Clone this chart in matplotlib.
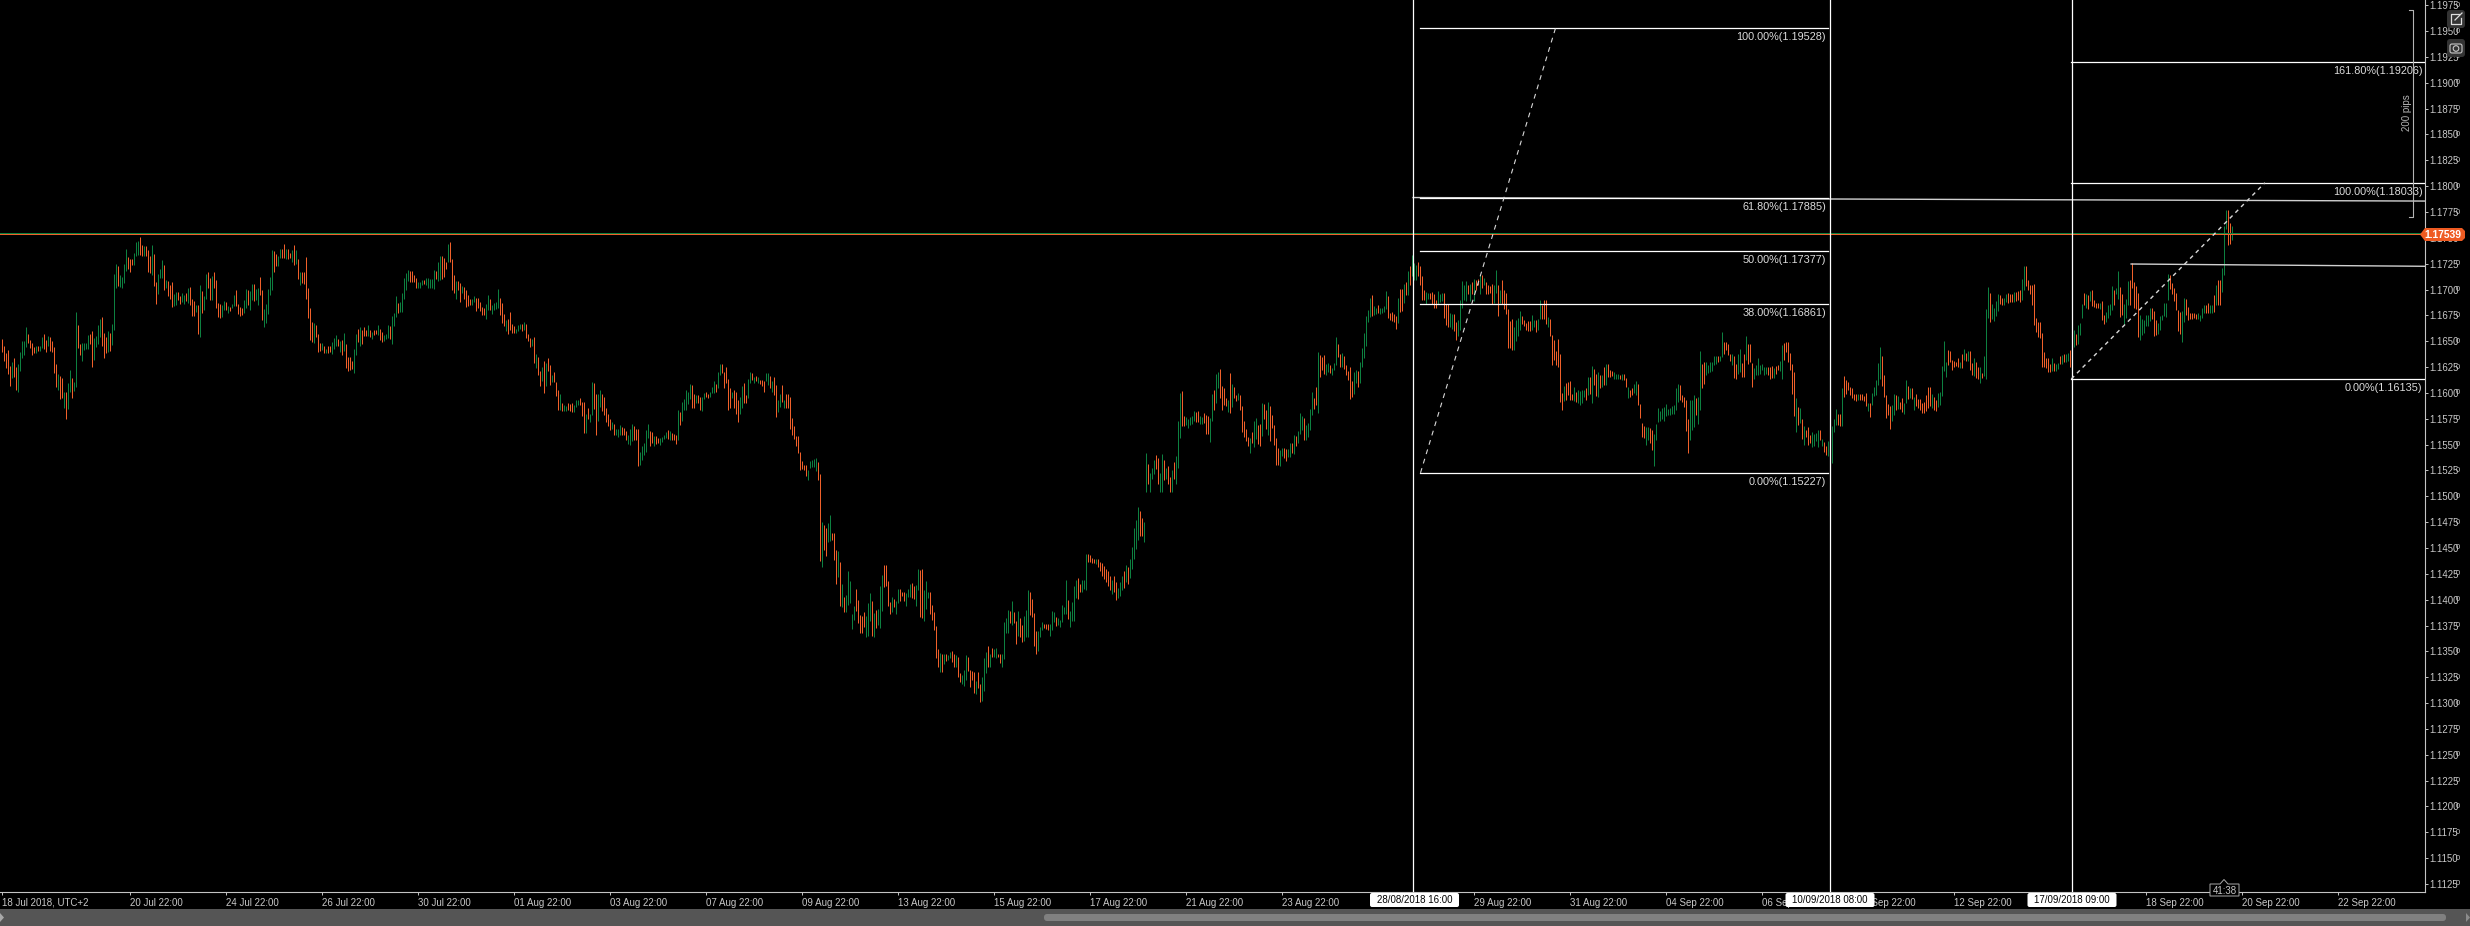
import numpy as np
import matplotlib
matplotlib.use("Agg")
import matplotlib.pyplot as plt
from matplotlib.patches import Rectangle, FancyBboxPatch, Polygon, Circle

plt.rcParams['font.family'] = ['Liberation Sans', 'DejaVu Sans']

# hourly bars, values in pips above the base price
pip_base = 1.09993

jul_high = [653,646,639,642,627,631,634,626,629,640,
            651,651,664,658,652,649,645,646,646,646,
            655,658,652,656,655,651,645,629,619,617,
            615,602,602,610,623,615,611,679,666,648,
            649,649,649,657,658,661,654,656,666,672,
            674,659,655,661,659,667,716,725,723,715,
            713,725,740,732,730,730,736,747,748,752,
            744,743,743,739,733,744,735,708,716,721,
            729,724,710,709,705,708,696,698,698,694,
            697,695,697,702,703,692,690,686,686,705,
            699,694,716,718,712,714,718,710,688,687,
            686,690,689,685,684,687,695,700,687,684,
            683,691,701,700,699,706,706,701,702,713,
            700,682,687,701,713,739,738,735,733,740,
            740,745,740,740,736,739,744,739,730,718,
            718,718,732,702,683,669,668,666,658,649,
            649,646,643,646,646,650,654,657,653,651,
            652,659,648,635,635,632,643,658,663,664,
            662,664,662,666,662,660,662,662,666,663,
            660,657,658,666,665,675,678,694,688,689,
            697,712,717,720,719,719,715,712,708,708,
            710,710,712,712,711,711,720,719,727,733,
            733,731,727,745,747,730,715,709,709,707,
            704,703,700,695,692,692,694,693,693,689,
            684,683,687,695,692,686,688,689,701,693]
jul_low = [640,632,625,619,607,615,616,604,602,622,
           634,637,645,649,644,637,639,639,641,641,
           644,643,640,646,641,640,620,606,604,595,
           596,586,575,585,602,596,603,606,644,637,
           632,642,643,643,648,626,633,645,648,655,
           646,634,639,640,641,647,662,702,704,703,
           702,707,719,721,718,724,724,733,734,734,
           733,733,733,718,717,715,704,687,696,712,
           712,700,702,694,692,684,685,686,691,687,
           689,687,690,688,686,675,675,679,658,655,
           678,681,692,702,691,691,702,683,674,673,
           674,681,681,678,680,683,685,685,677,675,
           676,678,683,686,681,691,690,691,686,695,
           671,664,668,677,695,700,718,723,723,731,
           731,731,730,730,731,727,724,725,711,705,
           707,706,692,673,652,650,649,655,640,641,
           642,639,639,639,640,638,643,646,646,640,
           637,641,625,622,623,624,620,637,650,646,
           648,656,656,656,655,653,657,658,657,652,
           650,651,653,654,653,648,665,674,678,679,
           679,692,700,709,708,708,708,702,702,702,
           705,706,705,702,702,702,701,711,709,710,
           711,713,721,727,727,700,697,692,700,689,
           697,692,684,685,686,686,689,680,683,680,
           676,676,672,681,681,677,681,682,683,676]
jul_side = ("ooooogoogg" "gggoooogog" "googoooogo" "ogoggoggoo" "ggggoogggg"
            "ooogogggog" "gggooogggo" "ogooogoogg" "gogoooggoo" "ggogooogog"
            "oggoogoooo" "ggogoggooo" "oggoggoggo" "ogggggoogg" "oogoogogog"
            "oooooogooo" "gogoogggog" "ogooooggog" "ooogogoogo" "ogggogggog"
            "ggggoooogg" "gogggggogg" "ooogooogoo" "gooooggooo" "ooggoggggo")

aug_high = [688,677,671,672,679,667,665,663,666,667,
            667,669,667,658,654,653,655,638,635,622,
            626,632,630,634,628,618,621,611,604,600,
            591,589,588,591,590,591,589,594,594,596,
            592,592,580,586,580,611,610,600,600,604,
            600,597,586,580,575,573,571,566,566,570,
            568,567,564,560,566,571,569,566,566,544,
            549,552,565,571,564,563,559,559,557,557,
            558,560,563,565,564,562,561,560,584,582,
            592,595,604,602,609,608,600,599,599,597,
            597,601,602,600,602,606,612,609,621,629,
            629,621,626,614,605,602,604,602,594,597,
            607,610,599,614,621,620,616,617,616,613,
            613,612,620,620,617,612,616,608,594,600,
            608,594,600,600,597,576,569,559,559,544,
            535,531,531,526,535,536,537,538,534,522,
            476,473,470,475,483,465,465,449,448,437,
            416,403,405,428,419,387,395,411,400,386,
            385,389,385,397,407,399,388,391,392,414,
            425,434,434,419,398,403,401,399,411,411,
            408,408,407,411,416,417,414,415,430,429,
            430,410,419,408,408,396,389,375,353,349,
            348,348,348,347,350,351,348,347,345,330,
            328,333,347,345,333,332,331,322,331,319,
            326,344,350,356,348,354,353,354,348,348,
            348,379,383,391,390,399,389,380,390,383,
            376,385,391,410,408,401,388,370,370,374,
            379,377,377,377,377,390,389,384,383,381,
            396,394,420,400,390,398,414,420,422,416,
            420,420,445,445,444,441,440,440,440,437]
aug_low = [668,665,661,658,662,659,659,659,661,663,
           661,662,654,651,645,646,630,625,618,607,
           612,601,607,622,608,611,611,598,584,584,
           583,583,583,584,583,582,582,587,589,589,
           578,562,562,575,573,579,585,560,574,587,
           583,579,573,569,565,566,560,560,558,560,
           560,560,555,551,550,554,555,555,530,531,
           536,541,544,557,549,552,549,551,552,550,
           553,556,557,556,555,555,555,551,555,570,
           574,584,584,590,595,586,586,591,591,584,
           583,595,597,596,597,601,601,602,605,618,
           620,605,610,584,586,596,586,580,573,580,
           586,591,591,596,610,613,610,612,610,609,
           607,602,612,608,605,602,599,577,582,587,
           592,586,586,586,566,560,556,549,543,526,
           527,526,520,516,528,529,529,525,516,438,
           432,449,443,456,457,458,439,416,423,395,
           394,389,389,396,397,372,381,390,378,368,
           368,374,365,366,380,366,365,373,376,373,
           390,413,414,395,387,389,394,387,397,399,
           404,399,395,403,403,402,401,395,410,384,
           383,380,392,402,387,381,371,344,336,331,
           331,338,341,342,344,340,336,336,326,321,
           319,317,323,332,316,323,310,309,315,302,
           303,312,330,336,336,345,345,344,345,339,
           336,343,368,368,378,376,378,358,366,365,
           360,361,365,365,386,384,356,348,351,365,
           371,373,372,371,366,371,379,375,376,374,
           379,387,387,382,374,380,380,402,401,408,
           408,411,410,437,437,436,436,435,432,428]
aug_side = ("oogooooggg" "ogooogogoo" "gogoogooog" "oggooogggo" "oogoggoogg"
            "ooooogoggg" "oooggg" "ooog" "ggggoogoog" "gggogooogo" "gggggoogoo"
            "ggoogggogg" "ooooogooog" "googgogogo" "ooggogoogg" "ogoooooooo"
            "oooggggg" "oo" "googgooogo" "gogggggooo" "ooggg" "ogogg" "goooogoggo"
            "ooggg" "oogg" "o" "ogggooooog" "ogogg" "oogoo" "gggoooogoo" "gggogoggoo"
            "ggggogoogo" "ogggoooogg" "goooggg" "ogg" "gggoggggoo" "gggoooogoo")

late_aug_high = [436,433,430,428,424,420,424,418,412,418,
                 424,428,434,432,440,452,470,478,490,486,
                 480,476,543,532,523,528,536,541,538,523,
                 542,536,528,530,519,526,534,540,574,601,
                 603,578,577,575,577,578,583,582,583,578,
                 577,581,579,578,576,600,604,619,621,624,
                 607,605,596,594,620,609,606,599,601,599,
                 588,574,566,558,557,563,574,576,570,571,
                 591,590,584,592,588,579,570,557,547,545,
                 547,547,546,546,552,552,560,559,564,581,
                 578,576,570,572,585,602,596,606,640,637,
                 635,637,629,630,628,625,630,655,648,638,
                 639,636,628,622,626,612,621,623,622,631,
                 644,659,675,681,693,695,685,683,686,683,
                 683,685,699,694,678,679,677,675,693,701,
                 701,706,708,719,723]
late_aug_low = [424,421,418,414,410,406,408,400,402,404,
                410,412,418,416,422,430,440,450,458,462,
                462,456,505,513,505,517,522,527,513,505,
                505,516,517,513,505,505,517,513,528,557,
                569,569,570,567,570,571,574,573,573,571,
                571,572,561,561,553,574,584,591,605,596,
                584,589,588,582,581,587,596,593,594,584,
                563,558,554,549,543,552,548,556,551,549,
                559,575,566,560,554,567,550,531,531,530,
                540,538,535,539,539,543,542,549,552,561,
                565,555,555,558,565,579,585,589,581,616,
                623,619,618,621,620,618,623,628,635,626,
                626,624,618,613,595,597,600,610,606,610,
                626,634,646,669,674,675,676,677,678,677,
                678,679,682,673,671,670,669,663,668,679,
                680,688,695,695,705]
late_aug_side = ("ooooogoogg" "gogogggggo" "oggogggoog" "gogoogoggg" "oogggggoog"
                 "goooggoggo" "ooogogoogo" "oooogoggoo" "googooooog" "googgogogg"
                 "goggggoogo" "oogg" "ogggoo" "goooooggog" "gggggoggog" "gggooooogo"
                 "ogogo")

sep_high = [734,726,724,727,723,714,700,698,697,697,
            698,696,691,699,696,697,697,687,687,678,
            677,677,669,671,691,709,705,709,705,706,
            708,711,710,711,715,715,712,708,705,704,
            706,705,720,705,700,710,700,697,682,670,
            672,664,671,673,680,675,671,668,670,670,
            676,671,671,672,691,686,691,691,674,672,
            657,652,641,653,638,601,607,610,611,612,
            600,606,602,604,603,604,604,605,616,616,
            627,624,619,621,618,618,626,629,629,623,
            622,621,619,619,618,619,619,615,606,604,
            605,609,612,609,590,572,569,568,568,567,
            565,561,571,586,583,586,587,590,585,586,
            588,589,605,609,608,599,597,594,575,594,
            594,599,596,597,641,629,631,631,628,631,
            631,636,636,636,636,660,650,650,648,638,
            638,636,629,638,643,630,638,656,648,648,
            630,625,628,634,628,629,626,626,626,626,
            627,625,627,628,632,647,649,650,650,639,
            629,621,596,587,586,575,569,565,568,560,
            563,561,562,565,565,556,553,549,554,560,
            569,575,585,580,580,605,617,613,611,606,
            605,600,600,600,600,600,598,601,591,591,
            601,606,613,630,645,636,618,599,590,588,
            589,600,599,598,592]
sep_low = [714,710,710,714,705,691,691,687,692,692,
           687,683,683,687,689,690,673,666,664,664,
           663,661,652,656,662,683,691,690,696,690,
           696,690,700,705,696,702,705,696,696,697,
           687,688,697,675,688,687,682,677,644,644,
           642,642,651,656,662,667,665,662,661,661,
           662,664,660,662,672,672,672,667,664,656,
           628,633,628,626,592,584,593,594,599,594,
           594,593,592,591,589,591,597,594,599,600,
           591,608,598,597,605,606,608,608,616,616,
           617,614,614,614,614,613,613,606,596,597,
           599,601,599,589,576,558,557,550,555,552,
           545,530,555,573,574,575,574,578,579,579,
           580,580,584,592,594,592,587,564,543,555,
           565,568,579,571,584,605,609,618,620,621,
           622,628,629,631,632,635,638,642,637,632,
           628,615,614,619,621,616,616,633,629,631,
           606,614,618,618,619,623,618,619,618,614,
           615,615,619,623,622,614,633,640,631,623,
           600,578,563,570,572,556,550,558,550,552,
           548,549,554,548,555,549,544,541,540,542,
           533,563,570,570,569,569,597,600,604,599,
           596,594,593,594,594,594,593,588,583,577,
           589,598,599,608,614,607,597,576,579,566,
           574,579,584,585,585]
sep_side = ("gggooooggo" "oooggg" "ooog" "googgggg" "og" "ogoogogooo" "oggogooooo"
            "oggggooooo" "ggoggooogo" "oooooogooo" "ogoggggogo" "googogogoo"
            "ogggogoogo" "oggooooggo" "oggggggggg" "ggggooooog" "ggoggooggg"
            "gggogg" "oooo" "googgoogoo" "ogggggggoo" "ogooggoooo" "oogogogooo"
            "ggggogoogg" "gggoogoooo" "ooogoooogo" "gggggooooo" "ggogo")

last_high = [596,591,613,607,605,605,597,600,595,595,
             591,592,599,606,606,600,597,594,601,602,
             627,651,631,642,641,633,632,631,634,631,
             638,643,639,641,641,630,634,631,626,626,
             620,636,682,703,697,687,683,690,696,695,
             693,693,696,697,696,696,698,698,699,700,
             711,723,723,710,705,705,706,673,669,669,
             659,640,634,634,629,634,630,629,630,636,
             637,638,638,639,642,641,662,658,666,668,
             687,697,696,695,699,700,691,688,688,688,
             690,676,679,686,687,704,700,702,719,703,
             696,687,692,709,710,726,708,704,697,676,
             672,671,676,676,683,683,680,671,668,675,
             676,688,688,716,715,707,702,697,681,679,
             680,693,692,684,678,678,678,677,678,676,
             683,686,686,688,686,686,695,705,710,710,
             722,762,778,778,765,762]
last_low = [582,580,591,595,596,595,584,588,586,584,
            581,581,583,586,588,586,584,583,587,589,
            598,622,616,628,631,623,626,627,626,625,
            625,633,632,632,623,618,617,615,614,610,
            615,617,614,673,669,672,670,675,680,687,
            686,686,689,688,689,689,689,690,691,689,
            691,700,704,700,696,686,666,660,655,654,
            626,626,625,621,621,622,622,622,624,629,
            629,631,631,632,626,614,645,647,648,657,
            673,686,683,682,690,685,684,683,683,682,
            671,667,669,673,676,681,686,696,692,674,
            676,667,673,686,686,702,683,682,655,652,
            657,659,665,665,670,672,656,657,658,662,
            671,675,674,691,701,696,690,681,661,658,
            650,669,676,671,672,672,673,672,672,670,
            673,678,678,678,678,678,679,686,686,686,
            698,715,759,744,745,749]
last_side = ("oggogogooo" "ooooogoogg" "gggoooooog" "ogogoogoog" "ogggoggggo"
             "oggooogooo" "ggoooooooo" "ooooogoggo" "gogg" "oggogg" "gogogoooog"
             "oogggg" "oggo" "ogggooooog" "gggggooogg" "ggggoooooo" "ggoooooogg"
             "ggooggogoo" "gggoog")

blocks = [(0, jul_high, jul_low, jul_side),
          (250, aug_high, aug_low, aug_side),
          (550, late_aug_high, late_aug_low, late_aug_side),
          (705, sep_high, sep_low, sep_side),
          (950, last_high, last_low, last_side)]

# tick labels, the ones fully behind a time flag stay empty
x_tick_bars = [0] + list(range(64, 1169, 48))
x_tick_labels = ['18 Jul 2018, UTC+2', '20 Jul 22:00', '24 Jul 22:00', '26 Jul 22:00', '30 Jul 22:00',
                 '01 Aug 22:00', '03 Aug 22:00', '07 Aug 22:00', '09 Aug 22:00', '13 Aug 22:00',
                 '15 Aug 22:00', '17 Aug 22:00', '21 Aug 22:00', '23 Aug 22:00', '',
                 '29 Aug 22:00', '31 Aug 22:00', '04 Sep 22:00', '06 Sep 22:00', '10 Sep 22:00',
                 '12 Sep 22:00', '', '18 Sep 22:00', '20 Sep 22:00', '22 Sep 22:00']
price_ticks = [1.1125 + 0.0025 * k for k in range(35)]

# drawings on the chart, x in bars
fib_a_levels = [1.19528, 1.17885, 1.17377, 1.16861, 1.15227]
fib_a_labels = ['100.00%(1.19528)', '61.80%(1.17885)', '50.00%(1.17377)', '38.00%(1.16861)', '0.00%(1.15227)']
fib_a_span = [709.2, 913.2]
fib_a_swing = [709.5, 777.0]
fib_b_levels = [1.19206, 1.18033, 1.16135]
fib_b_labels = ['161.80%(1.19206)', '100.00%(1.18033)', '0.00%(1.16135)']
fib_b_span = [1034.9, 1211.2]
fib_b_swing = [1034.9, 1131.7]
vertical_bars = [705.8, 914.0, 1035.0]
vertical_flags = ['28/08/2018 16:00', '10/09/2018 08:00', '17/09/2018 09:00']
trend_a = ([705.8, 1211.75], [1.17890, 1.17856])
trend_b = ([1064.8, 1211.75], [1.17247, 1.17225])
last_price = 1.17539

green = '#0d8040'
orange = '#f0602a'
ax_col = '#c4c4c4'
txt_col = '#c8c8c8'

fig = plt.figure(figsize=(24.7, 9.26), dpi=100, facecolor='black')
ax = fig.add_axes([0, 34 / 926, 2425 / 2470, 892 / 926], facecolor='black')
ax.set_xlim(-0.75, 1211.75)
ax.set_ylim(1.11172, 1.19801)

for start, high, low, side in blocks:
    xs = start + np.arange(len(high))
    hi = pip_base + np.array(high) / 10000
    lo = pip_base + np.array(low) / 10000
    up = np.array([s == 'g' for s in side])
    ax.vlines(xs[up], lo[up], hi[up], color=green, lw=0.72, snap=True, zorder=2)
    ax.vlines(xs[~up], lo[~up], hi[~up], color=orange, lw=0.72, snap=True, zorder=2)

# price line, bid and ask on neighbouring rows
ax.axhspan(last_price - 0.00002, last_price + 0.00008, facecolor=green, lw=0, antialiased=False, zorder=3)
ax.axhspan(last_price - 0.00012, last_price - 0.00002, facecolor=orange, lw=0, antialiased=False, zorder=3)

ax.plot(trend_a[0], trend_a[1], color='#d0d0d0', lw=1.0, zorder=4)
ax.plot(trend_b[0], trend_b[1], color='#d0d0d0', lw=1.0, zorder=4)

for x in vertical_bars:
    ax.axvline(x, color='white', lw=0.9, zorder=5)

for lev, lab in zip(fib_a_levels, fib_a_labels):
    ax.plot(fib_a_span, [lev, lev], color='white', lw=0.9, zorder=5)
    ax.annotate(lab, (fib_a_span[1], lev), xytext=(-1.5, -6.5), textcoords='offset points',
                ha='right', va='center', color='#dcdcdc', fontsize=7.8, zorder=6)
for lev, lab in zip(fib_b_levels, fib_b_labels):
    ax.plot(fib_b_span, [lev, lev], color='white', lw=0.9, zorder=5)
    ax.annotate(lab, (fib_b_span[1], lev), xytext=(-1, -6.5), textcoords='offset points',
                ha='right', va='center', color='#dcdcdc', fontsize=7.8, zorder=6)

ax.plot(fib_a_swing, [fib_a_levels[4], fib_a_levels[0]], color='#d8d8d8', lw=0.8,
        linestyle=(0, (4.4, 4.4)), zorder=5)
ax.plot(fib_b_swing, [fib_b_levels[2], fib_b_levels[1]], color='#d8d8d8', lw=1.0,
        linestyle=(0, (2.9, 2.9)), zorder=5)

for side_name in ['top', 'left']:
    ax.spines[side_name].set_visible(False)
for side_name in ['right', 'bottom']:
    ax.spines[side_name].set_color(ax_col)
    ax.spines[side_name].set_linewidth(0.8)

ax.yaxis.tick_right()
ax.set_yticks(price_ticks)
ax.set_yticklabels([f'{p:.4f}' for p in price_ticks], fontsize=6.9, color=txt_col)
ax.tick_params(axis='y', length=2.4, width=0.7, color=ax_col, pad=0.8)
ax.set_xticks(x_tick_bars)
ax.set_xticklabels(x_tick_labels, fontsize=7, color=txt_col, ha='left')
ax.tick_params(axis='x', length=2.4, width=0.7, color=ax_col, pad=1.6)
for p in price_ticks:
    ax.text(1.01265, p, '0', transform=ax.get_yaxis_transform(), fontsize=5.4, color=txt_col,
            va='center', ha='left', clip_on=False)

# things drawn on top of the chart, in picture pixels
ov = fig.add_axes([0, 0, 1, 1], zorder=10)
ov.set_xlim(0, 2470)
ov.set_ylim(926, 0)
ov.axis('off')

# scrollbar
ov.add_patch(Rectangle((0, 909), 2470, 17, color='#555555', lw=0))
ov.add_patch(FancyBboxPatch((1044, 914), 1402, 7, boxstyle='round,pad=0,rounding_size=3', color='#808080', lw=0))
ov.add_patch(Polygon([(0, 913), (0, 922), (4, 917.5)], color='#a8a8a8', lw=0))
ov.add_patch(Polygon([(2466, 913), (2466, 922), (2470, 917.5)], color='#8c8c8c', lw=0))

# time flags on the axis
for x_px, lab in zip([1414.5, 1830, 2072], vertical_flags):
    ov.add_patch(FancyBboxPatch((x_px - 44.5, 893), 89, 14, boxstyle='round,pad=0,rounding_size=2', color='white', lw=0))
    ov.text(x_px, 900, lab, color='black', fontsize=7, ha='center', va='center')

# 200 pips ruler
ruler = '#b4b4b4'
ov.plot([2409, 2413, 2413, 2409], [10, 10, 217, 217], color=ruler, lw=0.8)
ov.text(2407, 113, '200 pips', rotation=90, color=ruler, fontsize=7, ha='center', va='center')

# last price flag
ov.add_patch(Polygon([(2420, 234.5), (2425, 228), (2462, 228), (2465, 231), (2465, 238), (2462, 241), (2425, 241)],
                     color='#ef5b22', lw=0))
ov.text(2442.5, 234.5, '1.17539', color='white', fontsize=7.4, fontweight='bold', ha='center', va='center')

# countdown
ov.add_patch(Polygon([(2210, 884), (2220, 884), (2224, 879.5), (2228, 884), (2239, 884), (2239, 896), (2210, 896)],
                     facecolor='black', edgecolor='#a8a8a8', lw=0.7))
ov.text(2224.5, 890.5, '41:38', color=txt_col, fontsize=7, ha='center', va='center')

# chart buttons
ov.add_patch(FancyBboxPatch((2447, 10), 18, 18, boxstyle='round,pad=0,rounding_size=3', color='#333333', lw=0))
ov.add_patch(FancyBboxPatch((2447, 39), 18, 18, boxstyle='round,pad=0,rounding_size=3', color='#333333', lw=0))
ov.plot([2459, 2451, 2451, 2461, 2461], [14, 14, 24, 24, 18], color='#dddddd', lw=0.9)
ov.plot([2455, 2462], [20, 13], color='#dddddd', lw=0.9)
ov.add_patch(FancyBboxPatch((2450, 44), 12, 9, boxstyle='round,pad=0,rounding_size=2', facecolor='none', edgecolor='#c8c8c8', lw=0.8))
ov.add_patch(Circle((2456, 48.5), 2.8, facecolor='none', edgecolor='#c8c8c8', lw=0.8))

fig.savefig('out.png', dpi=100, facecolor='black')
